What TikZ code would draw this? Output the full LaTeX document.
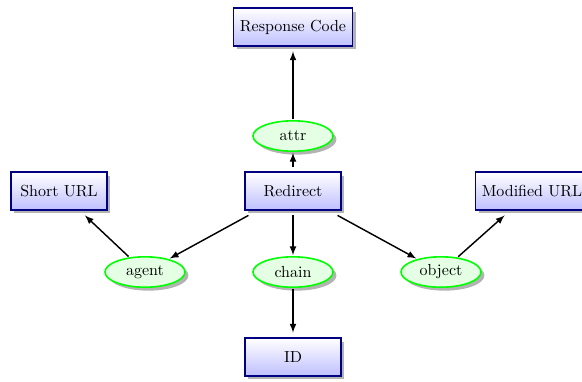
\documentclass[tikz,border=0pt]{standalone}
\usetikzlibrary{shapes.geometric,shadows,arrows}
\begin{document}
\begin{tikzpicture}[x=0.625pt,y=-0.625pt,
  concept/.style={rectangle,draw=blue!50!black,line width=1pt,top color=white,bottom color=blue!25,
    drop shadow={opacity=0.6},minimum width=60pt,minimum height=23.5pt,inner sep=4pt,
    outer sep=3.5pt,font=\normalsize},
  relation/.style={ellipse,draw=green,line width=1pt,fill=green!10,drop shadow={opacity=0.6},
    minimum width=50pt,minimum height=19pt,inner sep=1pt,outer sep=1pt},
  link/.style={line width=0.9pt,-latex}]
  \useasboundingbox (0,0) rectangle (582,381);
  % concept boxes
  \node[concept] (resp) at (293,27) {Response Code};
  \node[concept] (redir) at (293,191) {Redirect};
  \node[concept] (short) at (59,191) {Short URL};
  \node[concept] (mod) at (532,191) {Modified URL};
  \node[concept] (id) at (293,357) {ID};
  % relation ellipses
  \node[relation] (attr) at (293,136) {attr};
  \node[relation] (agent) at (145,272) {agent};
  \node[relation] (chain) at (293,272) {chain};
  \node[relation] (object) at (441,272) {object};
  % connectors
  \draw[link] (redir) -- (attr);
  \draw[link] (attr) -- (resp);
  \draw[link] (redir) -- (agent);
  \draw[link] (agent) -- (short);
  \draw[link] (redir) -- (chain);
  \draw[link] (chain) -- (id);
  \draw[link] (redir) -- (object);
  \draw[link] (object) -- (mod);
\end{tikzpicture}
\end{document}
